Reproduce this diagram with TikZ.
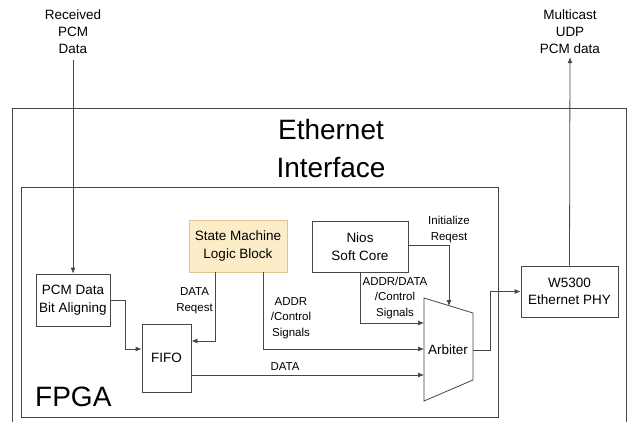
\documentclass[tikz,border=0pt]{standalone}
\usepackage{fontspec}
\setmainfont{Liberation Sans}
\usetikzlibrary{arrows.meta}
\definecolor{linegray}{RGB}{70,70,70}
\definecolor{smfill}{RGB}{252,236,200}
\definecolor{smdraw}{RGB}{222,198,146}
\begin{document}
\begin{tikzpicture}[x=1pt,y=-1pt,>={Latex[length=6pt,width=5pt]},
    blk/.style={draw=linegray,line width=0.8pt,inner sep=0pt,align=center,font=\fontsize{13.5}{17.5}\selectfont},
    toplbl/.style={align=center,inner sep=1pt,font=\fontsize{13.5}{17}\selectfont},
    sig/.style={align=center,inner sep=1pt,font=\fontsize{11.5}{15.5}\selectfont},
    bigtxt/.style={align=center,inner sep=0pt,font=\fontsize{28}{38}\selectfont},
    conn/.style={draw=linegray,line width=0.8pt}]
              \useasboundingbox (0,0) rectangle (629,422);
              \draw[conn] (12,422) -- (12,108) -- (626,108) -- (626,422);
              \draw[conn] (21,187) rectangle (498,417);
              \node[bigtxt] (eth) at (331,148) {Ethernet\\Interface};
              \node[bigtxt,anchor=west] (fpga) at (35,397) {FPGA};
              \node[toplbl] (recv) at (73,32) {Received\\PCM\\Data};
              \node[toplbl] (mcast) at (570,32) {Multicast\\UDP\\PCM data};
              \node[blk,minimum width=74pt,minimum height=52pt] (pcm) at (73,300) {PCM Data\\Bit Aligning};
              \node[blk,minimum width=49pt,minimum height=68pt] (fifo) at (166.5,358) {FIFO};
              \node[blk,draw=smdraw,fill=smfill,minimum width=98pt,minimum height=52pt] (sm) at (238,246) {State Machine\\Logic Block};
              \node[blk,minimum width=96pt,minimum height=51pt] (nios) at (360,246.5) {Nios\\Soft Core};
              \node[blk,minimum width=97pt,minimum height=51pt] (phy) at (569.5,291.5) {W5300\\Ethernet PHY};
              \draw[conn] (424,298) -- (473,313) -- (473,380) -- (424,401) -- cycle;
              \node[blk,draw=none] (arb) at (448,350) {Arbiter};
              \coordinate (arbin1) at (424,323);
              \coordinate (arbin2) at (424,349);
              \coordinate (arbin3) at (424,375);
              \coordinate (arbtop) at (449,306);
              \coordinate (arbout) at (473,350);
              \draw[conn,->,shorten <=5pt] (recv.south) -- (pcm.north);
              \draw[conn,->] (pcm.east) -- ++(15,0) |- ([yshift=9pt]fifo.west);
              \draw[conn,->] ([xshift=-23pt]sm.south) |- ([yshift=17pt]fifo.east);
              \node[sig] (dreq) at (194.5,300.5) {DATA\\Reqest};
              \draw[conn,->] ([xshift=25pt]sm.south) |- (arbin2);
              \node[sig] (smsig) at (291,318) {ADDR\\/Control\\Signals};
              \draw[conn,->] ([yshift=-17pt]fifo.east) -- (arbin3);
              \node[sig] (fdata) at (285,367) {DATA};
              \draw[conn,->] (nios.south) |- (arbin1);
              \node[sig] (niossig) at (395,298) {ADDR/DATA\\/Control\\Signals};
              \draw[conn,->] ([yshift=1.5pt]nios.east) -| (arbtop);
              \node[sig] (ireq) at (449,229.5) {Initialize\\Reqest};
              \draw[conn,->] (arbout) -- ++(17,0) |- (phy.west);
              \draw[conn,->,shorten >=2pt] (phy.north) -- (mcast.south);
        \end{tikzpicture}
\end{document}
